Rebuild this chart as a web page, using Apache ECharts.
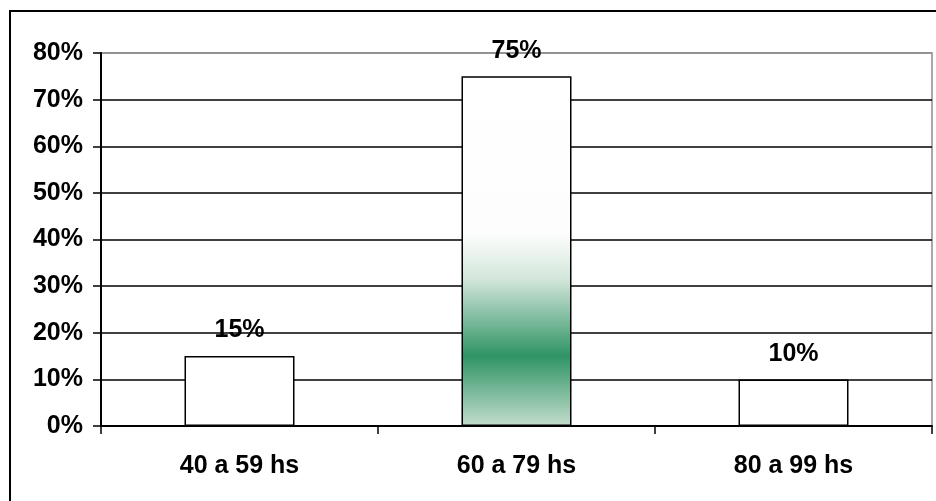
<!DOCTYPE html>
<html>
<head>
<meta charset="utf-8">
<script src="https://cdn.jsdelivr.net/npm/echarts@6/dist/echarts.min.js"></script>
<style>
html,body{margin:0;padding:0;background:#fff;}
#chart{width:936px;height:501px;}
</style>
</head>
<body>
<div id="chart"></div>
<script>
const categories = ['40 a 59 hs', '60 a 79 hs', '80 a 99 hs'];
const values = [15, 75, 10];
const yTicks = [0, 10, 20, 30, 40, 50, 60, 70, 80];

const FONT = '"Liberation Sans", Arial, sans-serif';
const whiteStyle = { color: '#ffffff', borderColor: '#000000', borderWidth: 1.5 };
const gradStyle = {
  color: {
    type: 'linear', x: 0, y: 0, x2: 0, y2: 1,
    colorStops: [
      { offset: 0, color: '#ffffff' },
      { offset: 0.45, color: '#fcfdfc' },
      { offset: 0.58, color: '#d3e6db' },
      { offset: 0.8, color: '#2f9465' },
      { offset: 1, color: '#c3ddcd' }
    ]
  },
  borderColor: '#000000', borderWidth: 1.5
};

const chart = echarts.init(document.getElementById('chart'), null, { renderer: 'canvas' });
chart.setOption({
  animation: false,
  backgroundColor: '#ffffff',
  graphic: [{
    type: 'rect', z: 100, silent: true,
    shape: { x: 10, y: 11, width: 1000, height: 600 },
    style: { fill: 'none', stroke: '#000', lineWidth: 2 }
  }],
  grid: {
    left: 101, right: 4, top: 53, bottom: 75,
    show: true, borderColor: '#8c8c8c', borderWidth: 1.5, backgroundColor: 'transparent'
  },
  xAxis: {
    type: 'category',
    data: categories,
    boundaryGap: true,
    axisLine: { lineStyle: { color: '#000', width: 2 } },
    axisTick: { show: true, length: 8, alignWithLabel: false, lineStyle: { color: '#000', width: 1.5 } },
    axisLabel: { margin: 28, color: '#000', fontFamily: FONT, fontWeight: 'bold', fontSize: 25 }
  },
  yAxis: {
    type: 'value',
    min: yTicks[0], max: yTicks[yTicks.length - 1], interval: 10,
    axisLine: { show: true, lineStyle: { color: '#000', width: 2 } },
    axisTick: { show: true, length: 8, lineStyle: { color: '#000', width: 1.5 } },
    axisLabel: { margin: 18, color: '#000', fontFamily: FONT, fontWeight: 'bold', fontSize: 25, formatter: '{value}%' },
    splitLine: { show: true, lineStyle: { color: ['#000','#000','#000','#000','#000','#000','#000','#000','#8c8c8c'], width: 1.5 } }
  },
  series: [{
    type: 'bar',
    barWidth: 110,
    data: values.map((v, i) => ({ value: v, itemStyle: i === 1 ? gradStyle : whiteStyle })),
    label: {
      show: true, position: 'top', distance: 13,
      formatter: '{c}%', color: '#000', fontFamily: FONT, fontWeight: 'bold', fontSize: 25
    }
  }]
});
</script>
</body>
</html>
